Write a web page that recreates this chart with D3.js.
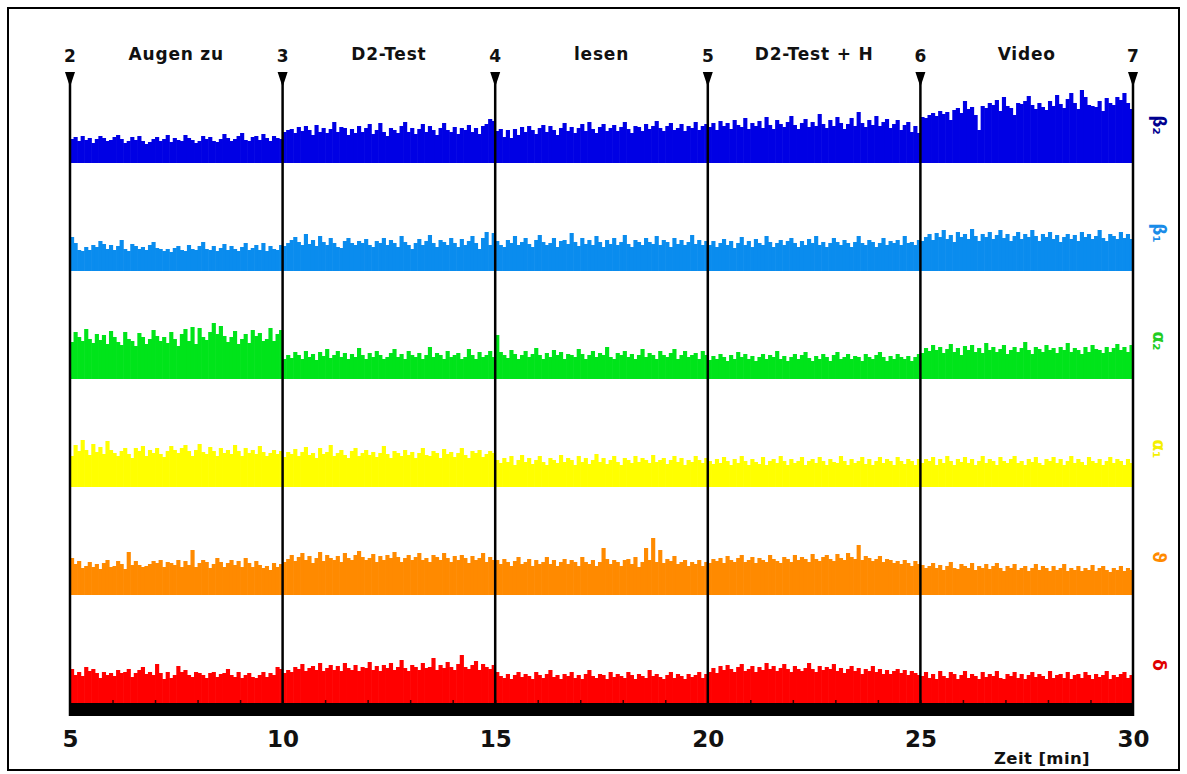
<!DOCTYPE html>
<html>
<head>
<meta charset="utf-8">
<script src="https://cdn.jsdelivr.net/npm/d3@7"></script>
<style>
body { margin: 0; background: #fff; }
svg { display: block; font-family: "DejaVu Sans", Verdana, sans-serif; }
</style>
</head>
<body>
<div id="chart"></div>
<script>
// event markers + segment names
const markerTimes = [5, 10, 15, 20, 25, 30];
const markerLabels = ["2", "3", "4", "5", "6", "7"];
const segmentLabels = ["Augen zu", "D2-Test", "lesen", "D2-Test + H", "Video"];
const axisTicks = [5, 10, 15, 20, 25, 30];
const bandNames = ["β₂", "β₁", "α₂", "α₁", "ϑ", "δ"];
const bandColors = ["#0000e4", "#0a8cee", "#00e41a", "#ffff00", "#ff8a00", "#ff0000"];
const labelColors = ["#000090", "#1a8ce8", "#22cc22", "#f4f000", "#ff8a00", "#e00000"];

// band power per 5 s epoch, 5..30 min (60 values per 5-min block)
const beta2 = [
  24,26,22,27,23,25,20,24,27,25,22,23,26,28,24,20,22,26,23,27,22,19,21,24,26,22,24,28,21,25,23,22,28,25,23,20,22,27,24,26,22,21,24,29,25,22,24,27,30,23,22,26,27,23,29,25,22,27,25,24,
  31,33,34,30,36,32,37,33,28,38,31,35,30,34,41,31,36,35,28,34,30,37,31,35,39,29,33,40,31,27,35,33,30,37,41,31,35,29,34,39,31,37,33,28,35,40,33,31,36,29,35,33,38,31,35,29,37,39,44,42,
  32,34,26,33,25,34,28,36,31,37,33,29,35,38,31,37,33,28,35,40,32,36,30,35,39,32,41,34,30,36,39,32,35,38,32,36,41,34,30,37,36,32,39,34,37,42,35,32,37,40,33,35,39,32,37,35,41,33,37,39,
  36,40,33,42,37,40,34,43,38,36,45,34,40,37,42,35,46,38,34,43,39,36,41,47,38,34,40,44,36,41,37,49,39,35,43,37,46,40,34,39,45,37,51,40,36,43,38,47,37,41,44,35,39,43,33,38,41,31,37,30,
  46,45,48,50,47,52,49,51,43,53,55,50,62,54,56,48,33,57,55,60,58,63,52,66,57,55,48,60,59,62,67,58,54,60,56,53,62,57,68,59,55,64,70,60,54,73,66,58,57,56,62,52,65,60,58,66,63,70,60,54
];
const beta1 = [
  34,28,21,20,24,21,26,24,30,27,22,26,21,25,31,22,20,27,25,22,24,21,26,29,23,22,20,22,19,23,25,21,20,26,22,21,25,29,22,21,25,20,23,27,21,25,22,20,24,28,21,23,26,21,28,20,25,22,21,26,
  25,28,31,34,29,26,37,27,31,25,35,29,26,33,28,24,23,30,33,28,26,30,28,32,26,24,30,28,33,26,31,28,24,35,29,26,22,28,32,26,30,36,28,24,31,29,26,33,28,24,32,26,30,35,28,22,33,39,26,38,
  30,26,24,31,28,35,26,29,33,27,24,31,36,29,26,28,33,24,30,31,27,38,29,25,33,27,31,26,35,29,24,31,27,33,26,29,36,27,24,31,29,26,33,29,27,35,26,31,29,24,33,27,31,26,29,36,27,31,26,30,
  26,30,24,28,32,26,30,23,28,34,26,30,24,32,28,26,35,29,24,28,31,26,30,33,28,24,30,26,32,28,35,26,29,24,28,33,29,26,31,28,24,29,35,28,26,31,29,24,28,33,26,30,28,31,26,35,28,29,26,31,
  30,34,37,31,38,34,41,32,36,29,39,34,37,32,42,35,30,37,34,39,32,36,41,33,37,30,35,39,32,37,34,41,35,30,37,34,39,32,36,29,34,37,32,36,30,39,34,37,32,35,41,33,30,37,35,32,39,33,37,32
];
const alpha2 = [
  37,47,42,38,50,40,36,45,39,44,35,48,42,37,34,47,40,38,33,46,42,35,40,49,43,38,42,36,47,40,33,45,50,38,52,35,51,42,39,47,56,45,53,43,37,42,48,35,40,45,36,49,43,46,38,40,51,38,45,49,
  20,24,21,27,24,20,28,22,25,19,27,23,30,21,24,28,22,26,20,25,22,31,24,20,26,22,28,24,20,22,26,30,22,25,20,28,24,22,26,20,24,32,22,26,24,20,28,22,24,26,20,22,30,24,20,27,22,24,28,22,
  44,27,24,21,29,25,20,24,28,22,25,31,24,20,26,22,29,24,27,20,25,24,22,30,25,20,24,28,22,26,24,32,22,20,26,24,28,22,25,20,24,30,22,26,24,20,28,24,22,26,30,20,24,28,22,24,26,20,28,24,
  19,23,20,25,22,18,24,20,27,22,25,20,23,18,22,25,20,24,22,28,20,23,18,22,25,20,24,27,21,18,23,20,25,22,18,24,27,20,22,25,20,23,22,18,25,22,20,24,27,22,18,23,20,25,22,20,23,18,22,25,
  26,31,28,34,29,32,26,30,35,27,31,24,33,29,34,27,31,26,36,29,32,27,30,34,25,29,32,27,31,37,29,25,32,30,27,34,29,31,26,32,29,36,27,31,29,25,32,27,34,30,29,26,32,27,31,35,29,32,27,34
];
const alpha1 = [
  31,42,36,47,37,32,43,35,40,33,46,37,34,31,36,39,33,29,39,36,41,31,37,34,39,33,30,36,41,37,34,39,42,36,31,37,43,35,33,40,36,31,39,34,37,33,42,36,31,39,34,37,33,41,35,31,34,37,33,36,
  30,35,33,38,31,35,40,32,34,29,39,33,35,42,31,34,37,32,29,36,39,31,34,37,32,35,30,34,41,33,29,36,34,31,37,32,35,29,34,39,32,31,36,34,29,38,33,35,30,34,39,32,29,36,34,37,30,33,36,34,
  27,24,29,25,31,22,27,32,25,29,23,27,31,25,22,29,27,24,32,25,29,27,22,31,25,29,23,27,33,25,29,23,27,31,25,22,29,27,24,31,25,29,27,24,32,25,27,29,23,27,31,25,29,22,27,25,31,27,24,29,
  26,23,28,24,30,26,22,28,24,31,26,22,28,25,23,30,22,26,28,24,31,26,22,28,24,26,30,22,26,28,24,30,26,22,28,25,24,31,26,22,28,24,26,30,23,28,22,26,30,24,28,26,22,30,26,23,28,26,22,28,
  24,28,26,30,22,28,24,31,26,22,28,25,30,24,28,22,26,31,24,28,26,22,30,26,24,28,31,24,26,22,28,25,30,24,22,28,26,30,24,28,22,26,31,24,28,25,22,30,26,24,28,22,26,30,24,28,26,22,28,24
];
const theta = [
  37,31,34,27,29,33,28,31,26,32,35,28,29,34,31,26,43,30,34,30,28,29,31,34,32,35,28,33,32,30,35,28,34,30,45,28,32,35,33,27,31,37,33,28,32,35,30,34,28,37,32,28,34,30,27,29,25,32,28,31,
  33,36,40,34,38,42,35,39,32,37,43,34,40,37,35,39,33,42,37,35,40,44,38,35,37,41,33,39,35,40,37,43,38,33,37,40,35,38,42,35,37,33,40,38,35,42,37,33,39,35,40,37,32,39,35,37,42,33,38,35,
  35,31,36,33,29,34,38,31,33,36,29,35,31,33,38,31,35,29,33,36,31,35,33,29,38,33,31,35,29,33,47,36,31,35,33,29,35,36,31,38,28,33,47,35,57,33,45,32,36,34,39,31,33,35,29,33,31,35,29,33,
  32,36,34,37,32,39,35,33,37,40,33,35,38,32,37,35,33,40,36,34,32,38,36,33,40,35,38,36,33,41,36,34,38,40,36,34,41,37,35,42,38,36,50,35,39,37,34,36,39,33,36,35,32,34,31,35,32,29,34,31,
  30,27,29,32,27,30,25,29,33,27,26,31,29,27,32,25,29,27,31,26,29,32,27,24,29,27,31,25,27,29,24,27,31,25,29,27,24,29,25,27,31,24,27,25,29,24,27,25,30,24,27,29,25,23,27,25,29,24,27,25
];
const delta = [
  34,28,31,27,36,32,34,30,25,31,28,30,27,33,30,31,34,26,30,33,36,29,31,28,39,30,24,31,25,28,37,31,33,28,26,31,30,28,25,30,31,26,29,30,34,28,26,31,25,28,30,26,25,28,31,26,30,28,36,34,
  30,33,31,36,34,39,32,35,37,33,40,32,35,38,33,37,32,40,35,33,38,32,36,35,41,33,37,32,38,35,40,33,36,43,35,32,38,36,33,40,35,36,45,33,38,35,41,36,33,39,48,36,34,38,42,33,39,36,34,38,
  31,27,25,29,24,28,31,26,29,27,24,31,28,25,29,33,26,28,24,29,27,31,25,28,24,29,33,27,25,29,28,24,31,26,29,27,25,31,28,24,29,27,25,33,27,29,26,24,28,31,25,29,27,24,29,26,28,31,25,29,
  31,35,30,37,33,38,34,31,36,39,32,34,37,31,36,33,40,34,37,32,35,39,34,31,37,34,32,35,40,34,31,37,33,36,34,39,32,35,30,34,37,32,35,29,34,32,37,31,34,29,33,29,32,34,30,33,28,32,30,28,
  27,31,25,29,24,32,27,25,31,29,24,28,32,25,29,27,24,31,26,29,27,32,25,24,29,27,31,25,29,24,28,31,26,29,27,24,32,25,28,29,25,31,24,28,29,25,31,28,24,29,26,28,32,24,28,26,29,31,25,28
];

const bands = [beta2, beta1, alpha2, alpha1, theta, delta].map((values, i) => ({
  name: bandNames[i], color: bandColors[i], labelColor: labelColors[i], values
}));

const width = 1187;
const height = 774;

const svg = d3.select('#chart')
  .append('svg')
  .attr('width', width)
  .attr('height', height);

// outer frame
svg.append('rect')
  .attr('x', 8).attr('y', 8)
  .attr('width', 1171).attr('height', 762)
  .attr('fill', 'none')
  .attr('stroke', '#000')
  .attr('stroke-width', 2);

const x = d3.scaleLinear().domain([5, 30]).range([70, 1133]);
const base = d3.scalePoint().domain(bandNames).range([163, 703]);
const step = 25 / 300; // minutes per epoch

bands.forEach(band => {
  const b = base(band.name);
  const y = d3.scaleLinear().domain([0, 100]).range([b, b - 100]);
  const g = svg.append('g');
  g.selectAll('rect')
    .data(band.values)
    .enter()
    .append('rect')
    .attr('x', (d, i) => x(5 + i * step))
    .attr('width', (d, i) => x(5 + (i + 1) * step) - x(5 + i * step) + 0.6)
    .attr('y', d => y(d))
    .attr('height', d => y(0) - y(d))
    .attr('fill', band.color);

  svg.append('text')
    .attr('transform', `translate(1153,${b - 38}) rotate(90)`)
    .attr('text-anchor', 'middle')
    .attr('font-size', 17)
    .attr('font-weight', 'bold')
    .attr('fill', band.labelColor)
    .text(band.name);
});

// black base strip with minute ticks
svg.append('rect')
  .attr('x', x(5)).attr('y', 703)
  .attr('width', x(30) - x(5)).attr('height', 13)
  .attr('fill', '#000');

svg.append('g')
  .attr('transform', 'translate(0,703)')
  .call(d3.axisTop(x).tickValues(d3.range(6, 30)).tickSize(3).tickFormat(''))
  .call(g => g.select('.domain').remove())
  .selectAll('line').attr('stroke', '#300').attr('stroke-width', 1.5);

const xAxis = svg.append('g')
  .attr('transform', 'translate(0,716)')
  .call(d3.axisBottom(x).tickValues(axisTicks).tickSize(0).tickPadding(15).tickFormat(d3.format('d')));
xAxis.select('.domain').remove();
xAxis.selectAll('text')
  .attr('font-family', '"DejaVu Sans", Verdana, sans-serif')
  .attr('font-size', 23)
  .attr('font-weight', 'bold')
  .attr('fill', '#111');

svg.append('text')
  .attr('x', 1042).attr('y', 764)
  .attr('text-anchor', 'middle')
  .attr('font-size', 16.5)
  .attr('font-weight', 'bold')
  .attr('letter-spacing', 0.4)
  .attr('fill', '#111')
  .text('Zeit [min]');

// event lines + markers
markerTimes.forEach((t, i) => {
  const cx = x(t);
  svg.append('line')
    .attr('x1', cx).attr('x2', cx)
    .attr('y1', 80).attr('y2', 716)
    .attr('stroke', '#000')
    .attr('stroke-width', 2.5);
  svg.append('path')
    .attr('d', `M${cx - 5},72 L${cx + 5},72 L${cx},87 Z`)
    .attr('fill', '#000');
  svg.append('text')
    .attr('x', cx).attr('y', 62)
    .attr('text-anchor', 'middle')
    .attr('font-size', 17)
    .attr('font-weight', 'bold')
    .attr('fill', '#111')
    .text(markerLabels[i]);
});

segmentLabels.forEach((s, i) => {
  svg.append('text')
    .attr('x', (x(markerTimes[i]) + x(markerTimes[i + 1])) / 2)
    .attr('y', 60)
    .attr('text-anchor', 'middle')
    .attr('font-size', 17)
    .attr('font-weight', 'bold')
    .attr('letter-spacing', 0.8)
    .attr('fill', '#111')
    .text(s);
});
</script>
</body>
</html>
